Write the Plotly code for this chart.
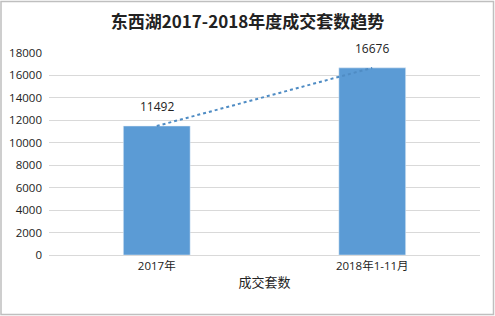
import plotly.graph_objects as go

categories = ["2017年", "2018年1-11月"]
values = [11492, 16676]
y_ticks = list(range(0, 18001, 2000))
y_tick_labels = [str(v) for v in y_ticks]

W, H = 495, 316
ml, mr, mt, mb = 49, 15, 53, 61
pw, ph = W - ml - mr, H - mt - mb

font_fam = "Open Sans, Noto Sans CJK SC, sans-serif"
bar_color = "#5B9BD5"

fig = go.Figure()
fig.add_trace(go.Bar(x=categories, y=values, marker_color=bar_color, width=0.31,
                     showlegend=False, hoverinfo="skip"))
fig.add_trace(go.Scatter(x=categories, y=values, mode="lines",
                         line=dict(color="#4F8CC4", width=2, dash="dot"),
                         showlegend=False, hoverinfo="skip"))
for c, v in zip(categories, values):
    fig.add_annotation(x=c, y=v, text=str(v), showarrow=False, yanchor="bottom",
                       yshift=9, font=dict(size=12, color="#222", family=font_fam))

fig.add_shape(type="rect", xref="paper", yref="paper",
              x0=(1 - ml) / pw, x1=(W - 1.5 - ml) / pw,
              y0=-(mb - 1.5) / ph, y1=1 + (mt - 1.5) / ph,
              line=dict(color="#BFBFBF", width=1.5), fillcolor="rgba(0,0,0,0)", layer="below")

fig.update_layout(
    width=W, height=H,
    margin=dict(l=ml, r=mr, t=mt, b=mb),
    paper_bgcolor="white", plot_bgcolor="white",
    title=dict(text="<b>东西湖2017-2018年度成交套数趋势</b>", x=0.5, xanchor="center",
               y=1 - 22 / H, yanchor="middle",
               font=dict(size=17, color="#222", family="Noto Sans CJK SC, sans-serif")),
    xaxis=dict(range=[-0.5, 1.5], showgrid=False, showline=True, linecolor="#D9D9D9",
               ticks="", tickfont=dict(size=11.5, color="#222", family=font_fam),
               title=dict(text="成交套数", font=dict(size=13, color="#222", family=font_fam),
                          standoff=6)),
    yaxis=dict(range=[0, 18000], tickvals=y_ticks, ticktext=y_tick_labels,
               showgrid=True, gridcolor="#D9D9D9", automargin=False,
               zeroline=False, ticks="", tickfont=dict(size=11.5, color="#222", family=font_fam),
               ticklabelstandoff=6),
)
fig.write_html("out.html")
